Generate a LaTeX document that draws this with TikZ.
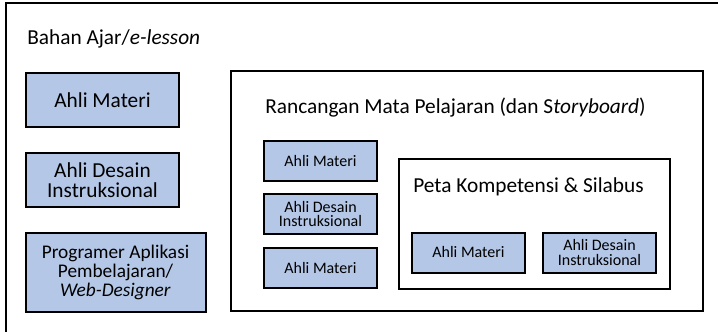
\documentclass[tikz,border=0pt]{standalone}
\usepackage{fontspec}
\setmainfont{Carlito}
\definecolor{roleblue}{RGB}{180,199,231}
\begin{document}
\begin{tikzpicture}[x=0.75pt,y=-0.75pt,
  frame/.style={draw=black,line width=1.5pt,fill=white,inner sep=0pt,outer sep=0pt},
  title/.style={anchor=base west,inner sep=0pt,font=\fontsize{16}{19}\selectfont},
  bigrole/.style={draw=black,line width=1.5pt,fill=roleblue,inner sep=0pt,
    minimum width=115pt,align=center,font=\fontsize{16}{15}\selectfont},
  smallrole/.style={draw=black,line width=1.5pt,fill=roleblue,inner sep=0pt,
    minimum width=84.75pt,minimum height=30pt,align=center,font=\fontsize{12}{11}\selectfont}]
\useasboundingbox (0,0) rectangle (718,332);
\clip (0,0) rectangle (718,332);
% outer frame, running past the right and bottom edges
\node[frame,minimum width=543pt,minimum height=259.5pt] (bahan) at (368,176) {};
\node[title] (bahanT) at (27,45) {Bahan Ajar/\textit{e-lesson}};
% left column of roles
\node[bigrole,minimum height=40.5pt] (m1) at (102.5,100) {Ahli Materi};
\node[bigrole,minimum height=40.5pt] (d1) at (102.5,180) {Ahli Desain\\Instruksional};
\node[bigrole,minimum width=135pt,minimum height=59.25pt,
  font=\fontsize{14.5}{14}\selectfont] (p1) at (115.5,272.5)
  {Programer Aplikasi\\Pembelajaran/\\\textit{Web-Designer}};
% course design frame
\node[frame,minimum width=354pt,minimum height=180pt] (rmp) at (467,191) {};
\node[title] (rmpT) at (265,113) {Rancangan Mata Pelajaran (dan S\textit{toryboard})};
\node[smallrole] (m2) at (320.5,161) {Ahli Materi};
\node[smallrole] (d2) at (320.5,214) {Ahli Desain\\Instruksional};
\node[smallrole] (m3) at (320.5,268) {Ahli Materi};
% competency map frame
\node[frame,minimum width=203.25pt,minimum height=97.5pt] (peta) at (534,224) {};
\node[title] (petaT) at (413,192) {Peta Kompetensi \& Silabus};
\node[smallrole] (m4) at (468.5,252.5) {Ahli Materi};
\node[smallrole] (d4) at (599.5,252.5) {Ahli Desain\\Instruksional};
\end{tikzpicture}
\end{document}
